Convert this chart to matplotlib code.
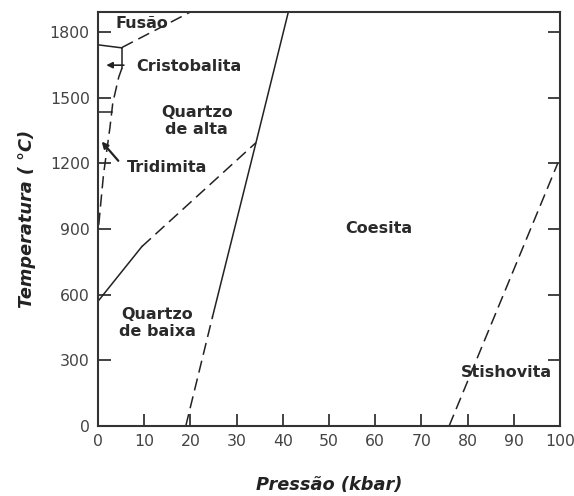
import matplotlib
matplotlib.use("Agg")
import matplotlib.pyplot as plt

# ---- data (pressure kbar, temperature °C) ----
qlow_qhigh_solid_P = [0.0, 9.5]
qlow_qhigh_solid_T = [570, 820]
qlow_qhigh_dash_P = [9.5, 34.2]
qlow_qhigh_dash_T = [820, 1295]

quartz_coesite_dash_P = [19.0, 24.8]
quartz_coesite_dash_T = [0, 500]
quartz_coesite_solid_P = [24.8, 34.2, 41.2]
quartz_coesite_solid_T = [500, 1295, 1892]

coesite_stish_P = [76.0, 99.5]
coesite_stish_T = [0, 1200]

melting_P = [5.2, 20.0]
melting_T = [1730, 1892]

crist_top_P = [0.0, 5.2]
crist_top_T = [1742, 1728]
crist_vert_P = [5.2, 5.2]
crist_vert_T = [1728, 1636]

trid_dash_P = [5.2, 4.5, 3.2, 2.6, 1.2, 0.4, 0.0]
trid_dash_T = [1636, 1595, 1476, 1366, 1150, 973, 880]

trid_crist_P = [0.0, 3.1]
trid_crist_T = [1435, 1435]

xticks = [0, 10, 20, 30, 40, 50, 60, 70, 80, 90, 100]
yticks = [0, 300, 600, 900, 1200, 1500, 1800]

labels = [
    ("Fusão", 9.6, 1838),
    ("Cristobalita", 19.7, 1645),
    ("Quartzo\nde alta", 21.4, 1393),
    ("Tridimita", 14.9, 1182),
    ("Coesita", 60.8, 902),
    ("Quartzo\nde baixa", 12.8, 470),
    ("Stishovita", 88.3, 243),
]

fig = plt.figure(figsize=(5.74, 4.96), dpi=100)
ax = fig.add_axes([0.1707, 0.1411, 0.8049, 0.8347])

lw = 1.1
dash = (0, (8, 4))
k = "#222222"
ax.plot(qlow_qhigh_solid_P, qlow_qhigh_solid_T, color=k, lw=lw)
ax.plot(qlow_qhigh_dash_P, qlow_qhigh_dash_T, color=k, lw=lw, linestyle=dash)
ax.plot(quartz_coesite_dash_P, quartz_coesite_dash_T, color=k, lw=lw, linestyle=dash)
ax.plot(quartz_coesite_solid_P, quartz_coesite_solid_T, color=k, lw=lw)
ax.plot(coesite_stish_P, coesite_stish_T, color=k, lw=lw, linestyle=dash)
ax.plot(melting_P, melting_T, color=k, lw=lw, linestyle=dash)
ax.plot(crist_top_P, crist_top_T, color=k, lw=lw)
ax.plot(crist_vert_P, crist_vert_T, color=k, lw=lw)
ax.plot(trid_dash_P, trid_dash_T, color=k, lw=lw, linestyle=dash)
ax.plot(trid_crist_P, trid_crist_T, color=k, lw=lw)

for txt, x, y in labels:
    ax.text(x, y, txt, ha="center", va="center", fontsize=11.5, fontweight="bold",
            color="#2a2a2a", family="DejaVu Sans", linespacing=1.15)

ax.annotate("", xy=(1.8, 1649), xytext=(5.6, 1649),
            arrowprops=dict(arrowstyle="-|>", color=k, lw=1.2, mutation_scale=9,
                            shrinkA=0, shrinkB=0))
ax.annotate("", xy=(0.8, 1300), xytext=(4.4, 1212),
            arrowprops=dict(arrowstyle="-|>", color=k, lw=1.6, mutation_scale=9,
                            shrinkA=0, shrinkB=0))

ax.set_xlim(0, 100)
ax.set_ylim(0, 1892)
ax.set_xticks(xticks)
ax.set_yticks(yticks)
ax.tick_params(direction="in", length=9, width=1.2, labelsize=11.3, colors="#222222",
               labelcolor="#444444", right=True, top=False, pad=6)
for lab in ax.get_xticklabels() + ax.get_yticklabels():
    lab.set_family("DejaVu Sans")
for s in ax.spines.values():
    s.set_linewidth(1.5)
    s.set_color("#333333")

ax.set_xlabel("Pressão (kbar)", fontsize=12.8, fontweight="bold", fontstyle="italic",
              family="DejaVu Sans", color="#222222", labelpad=19)
ax.set_ylabel("Temperatura ( °C)", fontsize=12.8, fontweight="bold", fontstyle="italic",
              family="DejaVu Sans", color="#222222", labelpad=10)

fig.savefig("out.png", dpi=100)
